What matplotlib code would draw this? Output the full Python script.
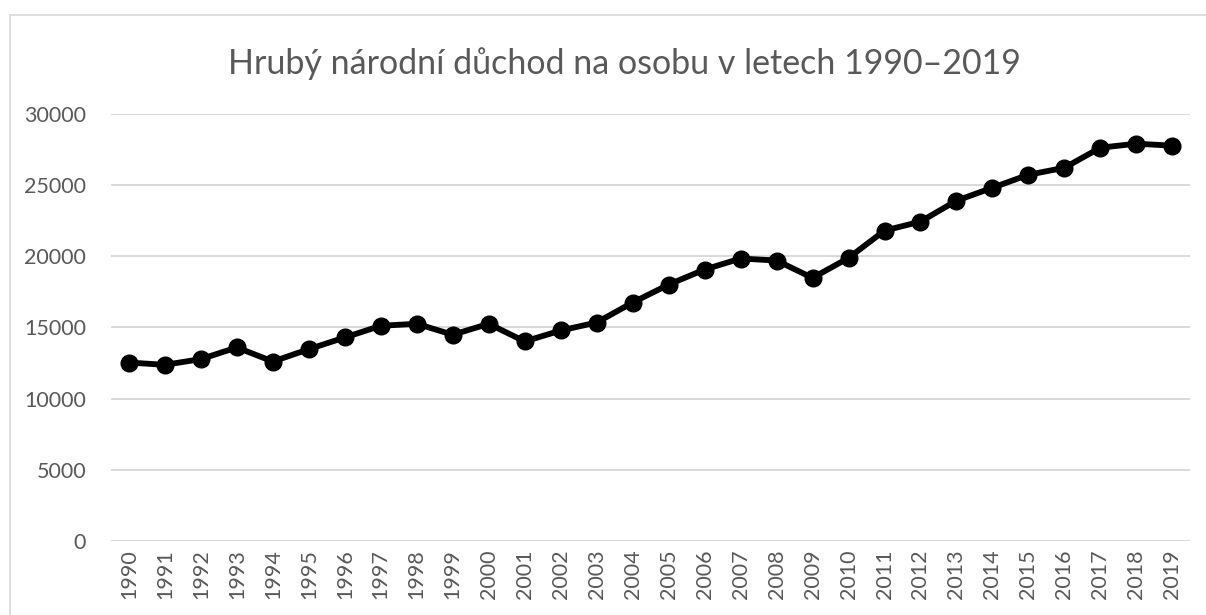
import matplotlib.pyplot as plt
from matplotlib.patches import Rectangle

years = [str(y) for y in range(1990, 2020)]
gni = [12540, 12380, 12780, 13600, 12610, 13480, 14300, 15120, 15260, 14490,
       15260, 14020, 14790, 15350, 16750, 18010, 19070, 19840, 19700, 18480,
       19880, 21800, 22430, 23900, 24810, 25720, 26210, 27620, 27900, 27760]
yticks = [0, 5000, 10000, 15000, 20000, 25000, 30000]

plt.rcParams["font.family"] = ["Lato", "DejaVu Sans"]

fig = plt.figure(figsize=(12.06, 6.15), dpi=100)
ax = fig.add_axes([0.092, 0.12, 0.895, 0.695])

# outer chart frame like the office chart
fig.patches.append(Rectangle((10 / 1206, -0.2), 1.2, 1.2 - 15 / 615,
                             transform=fig.transFigure, fill=False,
                             edgecolor="#d9d9d9", linewidth=1.2))

x = list(range(len(years)))
ax.plot(x, gni, color="black", linewidth=4.2, marker="o", markersize=12,
        solid_joinstyle="round", zorder=3)

ax.set_xlim(-0.5, len(years) - 0.5)
ax.set_ylim(0, 30000)
ax.set_yticks(yticks)
ax.set_yticklabels([str(v) for v in yticks])
ax.set_xticks(x)
ax.set_xticklabels(years, rotation=90)
ax.tick_params(axis="both", length=0, labelsize=15.5, colors="#595959")
ax.tick_params(axis="y", pad=18)
ax.tick_params(axis="x", pad=6)
ax.grid(axis="y", color="#d9d9d9", linewidth=1.4)
ax.set_axisbelow(True)
for s in ax.spines.values():
    s.set_visible(False)

fig.text(0.5175, 0.897, "Hrubý národní důchod na osobu v letech 1990–2019",
         ha="center", va="center", fontsize=24.5, color="#595959")

fig.savefig("out.png", dpi=100)
